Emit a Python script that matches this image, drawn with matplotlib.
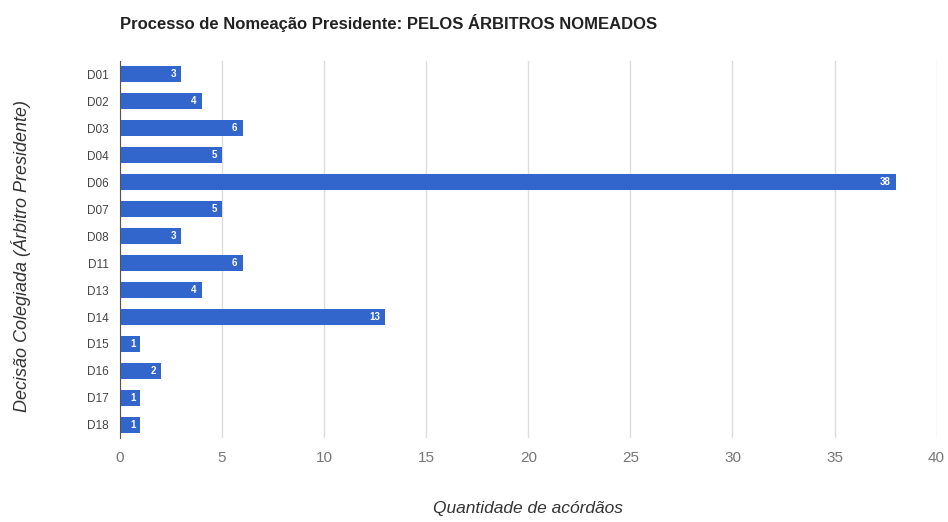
import matplotlib.pyplot as plt
import numpy as np

plt.rcParams['font.family'] = ['Liberation Sans', 'DejaVu Sans']

decisoes = ['D01', 'D02', 'D03', 'D04', 'D06', 'D07', 'D08',
            'D11', 'D13', 'D14', 'D15', 'D16', 'D17', 'D18']
acordaos = [3, 4, 6, 5, 38, 5, 3, 6, 4, 13, 1, 2, 1, 1]
xticks = [0, 5, 10, 15, 20, 25, 30, 35, 40]

fig = plt.figure(figsize=(9.48, 5.22), dpi=100)
ax = fig.add_axes([0.1266, 0.16, 0.8614, 0.724])

y = np.arange(len(decisoes))
ax.barh(y, acordaos, height=0.6, color='#3366cc', zorder=3)
for yi, v in zip(y, acordaos):
    ax.text(v - 0.25, yi, str(v), color='white', fontsize=7,
            ha='right', va='center', fontweight='bold', zorder=4)

ax.set_ylim(len(decisoes) - 0.5, -0.5)
ax.set_xlim(0, 40)
ax.set_yticks(y)
ax.set_yticklabels(decisoes, fontsize=8.5, color='#444444')
ax.set_xticks(xticks)
ax.set_xticklabels([str(t) for t in xticks], fontsize=11, color='#777777')
ax.tick_params(length=0)
ax.tick_params(axis='y', pad=8)
ax.tick_params(axis='x', pad=9)

ax.grid(axis='x', color='#dddddd', linewidth=1, zorder=0)
for s in ['top', 'right', 'bottom']:
    ax.spines[s].set_visible(False)
ax.spines['left'].set_color('#555555')
ax.spines['left'].set_zorder(5)

fig.text(0.1266, 0.955, 'Processo de Nomeação Presidente: PELOS ÁRBITROS NOMEADOS',
         fontsize=12, fontweight='bold', color='#222222', ha='left', va='center')
fig.text(0.557, 0.025, 'Quantidade de acórdãos', fontsize=12.5, style='italic',
         color='#333333', ha='center', va='center')
fig.text(0.022, 0.51, 'Decisão Colegiada (Árbitro Presidente)', fontsize=13,
         style='italic', color='#333333', ha='center', va='center', rotation=90)

fig.savefig('out.png', dpi=100, facecolor='white')
